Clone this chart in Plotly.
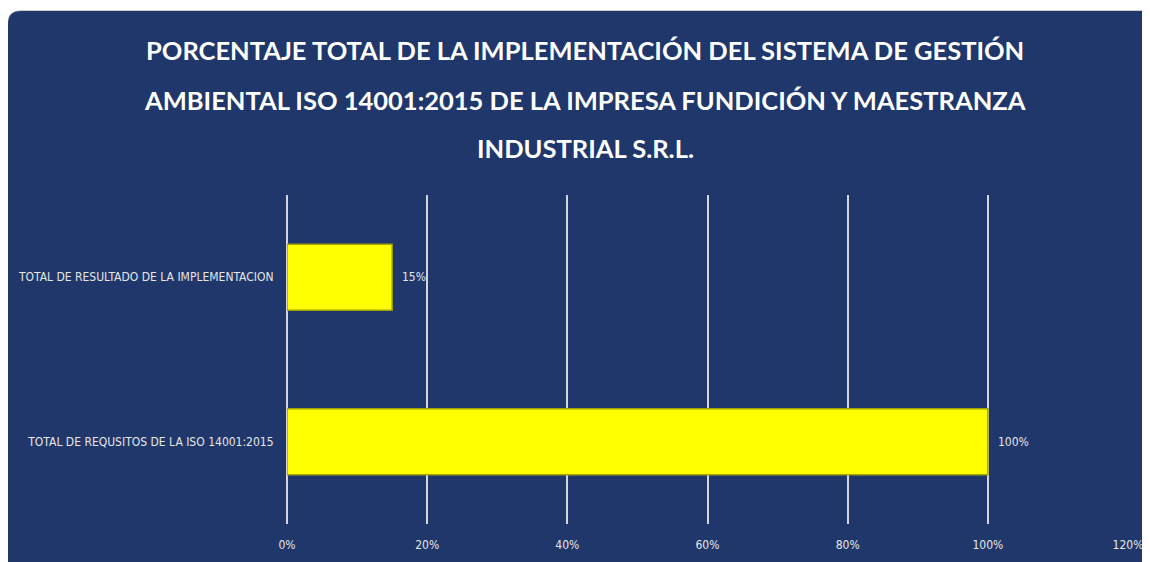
import plotly.graph_objects as go

categories = ["TOTAL DE REQUSITOS DE LA ISO 14001:2015", "TOTAL DE RESULTADO DE LA IMPLEMENTACION"]
values = [1.00, 0.15]
value_labels = ["100%", "15%"]
tick_vals = [0, 0.2, 0.4, 0.6, 0.8, 1.0, 1.2]
tick_text = ["0%", "20%", "40%", "60%", "80%", "100%", "120%"]
title_lines = [
    "PORCENTAJE TOTAL DE LA IMPLEMENTACIÓN DEL SISTEMA DE GESTIÓN",
    "AMBIENTAL ISO 14001:2015 DE LA IMPRESA FUNDICIÓN Y MAESTRANZA",
    "INDUSTRIAL S.R.L.",
]

# the page body has an 8px margin, so figure coords = screen coords - 8
OFF = 8
W, H = 1150 - OFF, 562 - OFF
L, R, T, B = 287 - OFF, W - (1128 - OFF), 195 - OFF, H - (524 - OFF)
pw, ph = W - L - R, H - T - B

def px(x):
    return (x - OFF - L) / pw

def py(y):
    return (H - B - (y - OFF)) / ph

BG = "#1F376B"
FONT = "DejaVu Sans Condensed, Liberation Sans Narrow, Roboto, sans-serif"
TXT = "#E6E6E6"
GRID = "#D4D6DC"

fig = go.Figure()
fig.add_trace(go.Bar(
    y=categories, x=values, orientation="h",
    marker=dict(color="#FFFF00", line=dict(color="#A3A300", width=1.5)),
    width=0.4, hoverinfo="skip",
))

# rounded panel (screen coords)
x0, x1, y0, y1, r = 8, 1152, 11, 575, 13
path = (f"M {px(x0)},{py(y0 + r)} "
        f"Q {px(x0)},{py(y0)} {px(x0 + r)},{py(y0)} "
        f"L {px(x1 - 4)},{py(y0)} Q {px(x1)},{py(y0)} {px(x1)},{py(y0 + 4)} "
        f"L {px(x1)},{py(y1)} L {px(x0 + r)},{py(y1)} "
        f"Q {px(x0)},{py(y1)} {px(x0)},{py(y1 - r)} Z")
shapes = [
    dict(type="path", path=(f"M {px(x0-1)},{py(y0 + r)} Q {px(x0-1)},{py(y0-1)} {px(x0 + r)},{py(y0-1)} "
                            f"L {px(x1)},{py(y0-1)} L {px(x1)},{py(y1)} L {px(x0-1)},{py(y1)} Z"),
         xref="paper", yref="paper", fillcolor="#D0D0D0", line=dict(width=0), layer="below"),
    dict(type="path", path=path, xref="paper", yref="paper",
         fillcolor=BG, line=dict(width=0), layer="below"),
]

title_y = [50, 100, 148]
annotations = []
for t, yy in zip(title_lines, title_y):
    annotations.append(dict(text=t, x=px(585), y=py(yy), xref="paper", yref="paper",
                            showarrow=False, xanchor="center", yanchor="middle",
                            font=dict(family="Lato", size=25.5, color="white", weight="bold")))
for c, v, lab in zip(categories, values, value_labels):
    annotations.append(dict(text=lab, x=v, y=c, xref="x", yref="y", showarrow=False,
                            xanchor="left", yanchor="middle", xshift=8,
                            font=dict(family=FONT, size=12, color=TXT)))

fig.update_layout(
    width=W, height=H,
    margin=dict(l=L, r=R, t=T, b=B),
    paper_bgcolor="white", plot_bgcolor="rgba(0,0,0,0)",
    showlegend=False, bargap=0.6,
    shapes=shapes, annotations=annotations,
    xaxis=dict(range=[0, 1.2], tickvals=tick_vals, ticktext=tick_text, automargin=False,
               showgrid=True, gridcolor=GRID, gridwidth=1.5,
               zeroline=True, zerolinecolor=GRID, zerolinewidth=1.5,
               showline=False, ticks="outside", ticklen=10, tickcolor="rgba(0,0,0,0)",
               tickfont=dict(family=FONT, size=12, color=TXT), fixedrange=True),
    yaxis=dict(showgrid=False, showline=False, zeroline=False, automargin=False,
               ticks="outside", ticklen=10, tickcolor="rgba(0,0,0,0)",
               tickfont=dict(family=FONT, size=12, color=TXT), fixedrange=True),
)

fig.write_html("out.html")
